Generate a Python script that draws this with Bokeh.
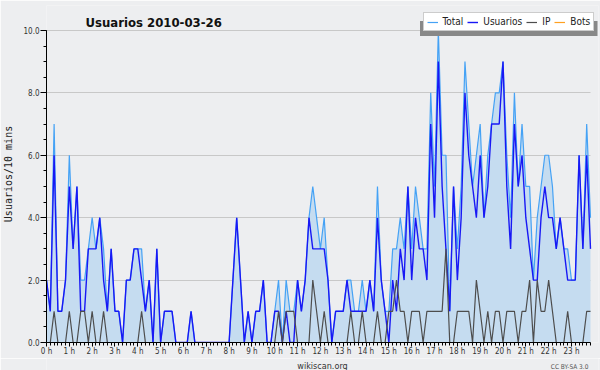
from bokeh.plotting import figure
from bokeh.layouts import column
from bokeh.models import (Range1d, SingleIntervalTicker, FixedTicker, Legend, LegendItem,
                          Label, BoxAnnotation, ColumnDataSource, PrintfTickFormatter)
from bokeh.embed import file_html
from bokeh.resources import INLINE

# ---- data: 144 ten-minute slots of 2010-03-26 ----
slot_hours = [i / 6 for i in range(144)]          # slot start, in hours
total = [
    2, 1, 7, 1, 1, 2, 6, 3, 5, 2,
    2, 3, 4, 3, 4, 3, 1, 3, 1, 1,
    0, 2, 2, 3, 3, 3, 1, 2, 0, 3,
    0, 1, 1, 1, 0, 0, 0, 0, 1, 0,
    0, 0, 0, 0, 0, 0, 0, 0, 0, 2,
    4, 2, 0, 1, 0, 1, 1, 2, 0, 0,
    1, 2, 0, 2, 1, 1, 2, 1, 2, 4,
    5, 4, 3, 4, 2, 0, 1, 1, 1, 2,
    2, 1, 1, 2, 1, 2, 1, 5, 2, 1,
    1, 3, 3, 4, 3, 5, 3, 5, 4, 3,
    3, 8, 5, 10, 6, 6, 1, 5, 3, 5,
    9, 7, 5, 6, 7, 4, 6, 7, 8, 8,
    9, 6, 4, 8, 5, 7, 5, 5, 2, 4,
    5, 6, 6, 5, 3, 4, 3, 3, 2, 2,
    6, 3, 7, 4]
usuarios = [
    2, 1, 6, 1, 1, 2, 5, 3, 5, 1,
    1, 3, 3, 3, 4, 2, 1, 3, 1, 1,
    0, 2, 2, 3, 3, 2, 1, 2, 0, 3,
    0, 1, 1, 1, 0, 0, 0, 0, 1, 0,
    0, 0, 0, 0, 0, 0, 0, 0, 0, 2,
    4, 2, 0, 1, 0, 1, 1, 2, 0, 0,
    1, 1, 0, 1, 0, 0, 2, 1, 2, 4,
    3, 3, 3, 3, 2, 0, 1, 1, 1, 2,
    1, 1, 1, 1, 1, 2, 1, 4, 2, 1,
    0, 2, 1, 3, 2, 5, 2, 4, 3, 3,
    2, 7, 4, 9, 5, 3, 1, 5, 2, 4,
    8, 6, 5, 4, 6, 4, 5, 7, 7, 7,
    9, 5, 3, 7, 5, 6, 4, 3, 2, 2,
    4, 5, 4, 4, 3, 4, 3, 2, 2, 2,
    6, 3, 6, 3]
ip = [
    0, 0, 1, 0, 0, 0, 1, 0, 0, 1,
    1, 0, 1, 0, 0, 1, 0, 0, 0, 0,
    0, 0, 0, 0, 0, 1, 0, 0, 0, 0,
    0, 0, 0, 0, 0, 0, 0, 0, 0, 0,
    0, 0, 0, 0, 0, 0, 0, 0, 0, 0,
    0, 0, 0, 0, 0, 0, 0, 0, 0, 0,
    0, 1, 0, 1, 1, 1, 0, 0, 0, 0,
    2, 1, 0, 1, 0, 0, 0, 0, 0, 0,
    1, 0, 0, 1, 0, 0, 0, 1, 0, 0,
    1, 1, 2, 1, 1, 0, 1, 1, 1, 0,
    1, 1, 1, 1, 1, 3, 0, 0, 1, 1,
    1, 1, 0, 2, 1, 0, 1, 0, 1, 1,
    0, 1, 1, 1, 0, 1, 1, 2, 0, 2,
    1, 1, 2, 1, 0, 0, 0, 1, 0, 0,
    0, 0, 1, 1]
bots_hours = [0]   # bots: a single zero reading (no visible line)
bots = [0]
hour_ticks = list(range(24))
hour_labels = {h: f"{h} h" for h in hour_ticks}

FONT = "DejaVu Sans Condensed"
BG = "#edeef0"

# ---- page geometry (pixels of the 600x370 page) ----
X0, X_LAST, X_RIGHT = 46, 590, 598        # frame left, last slot, frame right
Y_TOP, Y10, Y0 = 5, 30, 343               # frame top, value 10, value 0
PXH = (X_LAST - X0) / (143 / 6)
PXV = (Y0 - Y10) / 10
MAIN_H = 358


def dx(px):
    return (px - X0) / PXH


def dy(py):
    return (Y0 - py) / PXV


src = ColumnDataSource(dict(x=slot_hours, total=total, usuarios=usuarios, ip=ip))

p = figure(width=600, height=MAIN_H, output_backend="svg", toolbar_location=None,
           title=None,
           x_range=Range1d(0, dx(X_RIGHT)), y_range=Range1d(0, dy(Y_TOP)),
           min_border_left=X0, min_border_right=600 - X_RIGHT,
           min_border_top=Y_TOP, min_border_bottom=MAIN_H - Y0)
p.background_fill_color = BG
p.border_fill_color = BG
p.outline_line_color = None

# area + lines
p.varea(x="x", y1=0, y2="total", source=src, fill_color="#c5dcf0", fill_alpha=1.0)
r_total = p.line("x", "total", source=src, line_color="#45a2f5", line_width=1.2)
r_bots = p.line(x=bots_hours, y=bots, line_color="#ffa020", line_width=1.2)
r_usr = p.line("x", "usuarios", source=src, line_color="#1818f5", line_width=1.4)
r_ip = p.line("x", "ip", source=src, line_color="#4d4d4d", line_width=1.2)

# axes
p.xaxis.ticker = FixedTicker(ticks=hour_ticks, minor_ticks=slot_hours)
p.xaxis.major_label_overrides = hour_labels
p.xaxis.bounds = (0, 143 / 6)
p.yaxis.ticker = SingleIntervalTicker(interval=2, num_minor_ticks=4)
p.yaxis.formatter = PrintfTickFormatter(format="%.1f")
p.yaxis.bounds = (0, 10)
for ax in (p.xaxis[0], p.yaxis[0]):
    ax.axis_line_color = "black"
    ax.major_tick_line_color = "black"
    ax.minor_tick_line_color = "black"
    ax.major_tick_in = 0
    ax.minor_tick_in = 0
    ax.major_label_text_font = FONT
    ax.major_label_text_font_size = "8px"
    ax.major_label_text_color = "#333333"
p.xaxis.major_tick_out = 4
p.xaxis.minor_tick_out = 3
p.xaxis.major_label_standoff = 0
p.yaxis.major_tick_out = 6
p.yaxis.minor_tick_out = 3
p.yaxis.major_label_standoff = 1
p.yaxis.axis_label = "Usuarios/10 mins"
p.yaxis.axis_label_text_font = "DejaVu Sans Mono"
p.yaxis.axis_label_text_font_size = "10px"
p.yaxis.axis_label_text_font_style = "normal"
p.yaxis.axis_label_text_color = "#222222"
p.yaxis.axis_label_standoff = 6

p.xgrid.visible = False
p.ygrid.grid_line_color = "#c8c8c8"
if "cross_bounds" in p.ygrid[0].properties():
    p.ygrid[0].cross_bounds = (0, 143 / 6)

# title (inside the frame's upper band)
p.add_layout(Label(x=dx(85), y=dy(22), text="Usuarios  2010-03-26", text_font=FONT,
                   text_font_size="13px", text_font_style="bold", text_color="#111111",
                   text_align="left", text_baseline="alphabetic"))

# legend shadow + legend
p.add_layout(BoxAnnotation(left=dx(419.5), right=dx(597), top=dy(20.5), bottom=dy(35.5),
                           fill_color="#888888", fill_alpha=1.0, line_color=None))
legend = Legend(items=[LegendItem(label="Total", renderers=[r_total]),
                       LegendItem(label="Usuarios", renderers=[r_usr]),
                       LegendItem(label="IP", renderers=[r_ip]),
                       LegendItem(label="Bots", renderers=[r_bots])],
                orientation="horizontal", location=(422.5 - X0, Y0 - 32.3),
                background_fill_color="white", background_fill_alpha=1.0,
                border_line_color="#999999", border_line_width=1,
                label_text_font=FONT, label_text_font_size="10px", label_text_color="#222222",
                glyph_width=11, glyph_height=10, label_height=10, label_width=0,
                label_standoff=5, spacing=4, padding=3, margin=0)
p.add_layout(legend)

# ---- footer strip ----
FOOT_H = 370 - MAIN_H
f = figure(width=600, height=FOOT_H, output_backend="svg", toolbar_location=None,
           title=None, x_range=Range1d(0, 600), y_range=Range1d(0, FOOT_H),
           min_border=0, x_axis_location=None, y_axis_location=None)
f.background_fill_color = BG
f.border_fill_color = BG
f.outline_line_color = None
f.grid.visible = False
f.add_layout(Label(x=300, y=370 - 365.5, text="wikiscan.org", text_font=FONT,
                   text_font_size="9px", text_color="#333333",
                   text_align="center", text_baseline="alphabetic"))
f.add_layout(Label(x=589, y=370 - 366.5, text="CC BY-SA 3.0", text_font=FONT,
                   text_font_size="6.5px", text_color="#555555",
                   text_align="right", text_baseline="alphabetic"))

layout = column(p, f, spacing=0)
open("out.html", "w").write(file_html(layout, INLINE))
